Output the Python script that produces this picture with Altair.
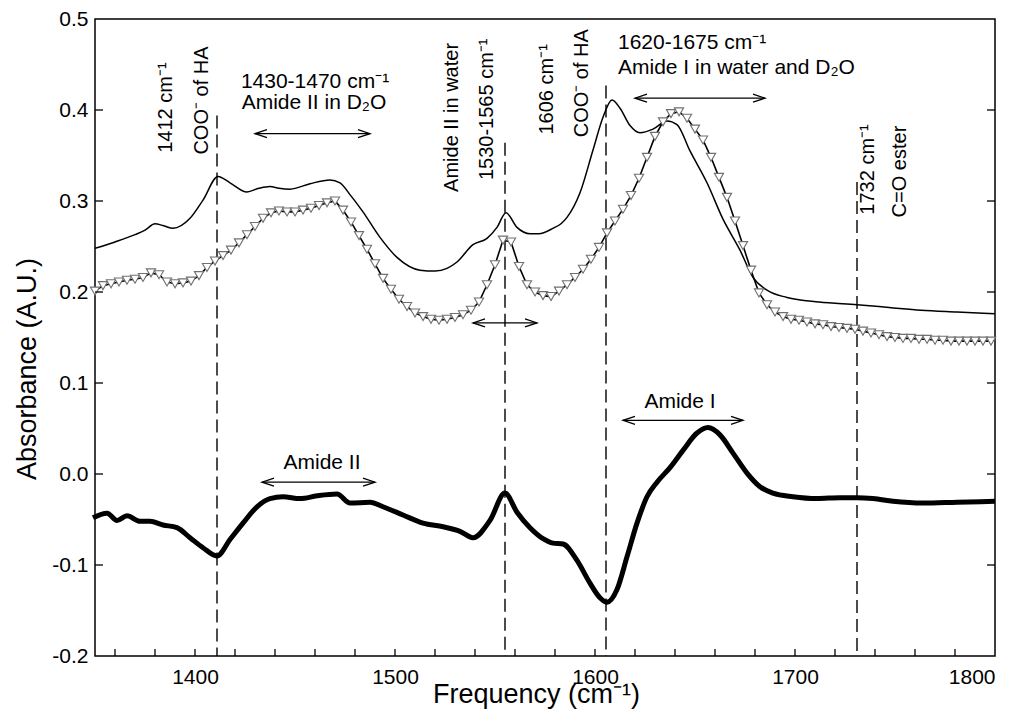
import altair as alt
import pandas as pd

FONT = "Liberation Sans"

# ---- thin solid spectrum ----
thin_x = [1350, 1360, 1370, 1375, 1380, 1384, 1389, 1397.5, 1404, 1411.5, 1417.5, 1426,
          1432, 1437.5, 1442, 1447.5, 1457.5, 1467.5, 1472.5, 1477.5, 1484, 1492.5, 1501,
          1512.5, 1520, 1526, 1531, 1539, 1546, 1551, 1555.5, 1561, 1567.5, 1572, 1579,
          1583, 1586, 1592.5, 1599, 1604, 1608.5, 1612.5, 1617.5, 1622.5, 1629, 1636,
          1641, 1647.5, 1656, 1664, 1672.5, 1679, 1686, 1696, 1712, 1731, 1747, 1763,
          1781, 1800]
thin_y = [0.248, 0.255, 0.263, 0.268, 0.275, 0.273, 0.270, 0.281, 0.301, 0.327, 0.320, 0.310,
          0.314, 0.316, 0.314, 0.313, 0.319, 0.323, 0.320, 0.307, 0.288, 0.260, 0.238,
          0.224, 0.223, 0.226, 0.233, 0.252, 0.259, 0.271, 0.287, 0.271, 0.264, 0.264, 0.270,
          0.275, 0.282, 0.309, 0.356, 0.392, 0.411, 0.402, 0.383, 0.375, 0.379, 0.388,
          0.384, 0.355, 0.320, 0.280, 0.246, 0.216, 0.202, 0.194, 0.189, 0.186, 0.183, 0.180,
          0.178, 0.176]

# ---- spectrum with open triangles ----
tri_x = [1350, 1354, 1358, 1362, 1366, 1370, 1374, 1378, 1382, 1386, 1390, 1394, 1398,
         1402, 1406, 1410, 1414, 1418, 1422, 1426, 1430, 1434, 1438, 1442, 1446, 1450,
         1454, 1458, 1462, 1466, 1470, 1474, 1478, 1482, 1486, 1490, 1494, 1498, 1502,
         1506, 1510, 1514, 1518, 1522, 1526, 1530, 1534, 1538, 1542, 1546, 1550, 1554,
         1558, 1562, 1566, 1570, 1574, 1578, 1582, 1586, 1590, 1594, 1598, 1602, 1606,
         1610, 1614, 1618, 1622, 1626, 1630, 1634, 1638, 1642, 1646, 1650, 1654, 1658,
         1662, 1666, 1670, 1674, 1678, 1682, 1686, 1690, 1694, 1698, 1702, 1706, 1710,
         1714, 1718, 1722, 1726, 1730, 1734, 1738, 1742, 1746, 1750, 1754, 1758, 1762,
         1766, 1770, 1774, 1778, 1782, 1786, 1790, 1794, 1798]
tri_y = [0.201, 0.207, 0.209, 0.211, 0.213, 0.214, 0.216, 0.221, 0.219, 0.211, 0.209, 0.210, 0.212,
         0.218, 0.227, 0.234, 0.240, 0.246, 0.254, 0.263, 0.272, 0.281, 0.287, 0.289, 0.288, 0.288,
         0.290, 0.292, 0.295, 0.298, 0.300, 0.290, 0.277, 0.262, 0.247, 0.231, 0.215, 0.203, 0.192,
         0.184, 0.177, 0.173, 0.170, 0.169, 0.170, 0.172, 0.175, 0.180, 0.189, 0.208, 0.230, 0.257,
         0.255, 0.228, 0.208, 0.200, 0.196, 0.195, 0.201, 0.208, 0.216, 0.225, 0.236, 0.249, 0.265,
         0.278, 0.291, 0.306, 0.325, 0.348, 0.371, 0.387, 0.396, 0.398, 0.391, 0.379, 0.367, 0.348,
         0.326, 0.304, 0.278, 0.251, 0.224, 0.199, 0.186, 0.178, 0.173, 0.170, 0.169, 0.167, 0.165,
         0.164, 0.162, 0.161, 0.160, 0.159, 0.157, 0.155, 0.153, 0.151, 0.150, 0.149, 0.149, 0.148,
         0.148, 0.147, 0.147, 0.146, 0.146, 0.146, 0.146, 0.146, 0.146]

# ---- thick difference spectrum ----
thick_x = [1349, 1356, 1361, 1366, 1372.5, 1377.5, 1384, 1391, 1397.5, 1404, 1411, 1417.5,
           1424, 1431, 1437.5, 1444, 1452.5, 1461, 1471, 1477.5, 1487.5, 1494, 1504, 1514,
           1524, 1532.5, 1539, 1547.5, 1555, 1561, 1567.5, 1574, 1579, 1584, 1591, 1597.5,
           1602.5, 1606, 1611, 1616, 1621, 1626, 1631, 1637.5, 1644, 1651, 1656.5, 1662.5,
           1669, 1676, 1682.5, 1689, 1699, 1711, 1722.5, 1731, 1739, 1749, 1764, 1781, 1800]
thick_y = [-0.048, -0.043, -0.051, -0.046, -0.052, -0.052, -0.056, -0.059, -0.070, -0.081, -0.090, -0.072,
           -0.054, -0.036, -0.027, -0.025, -0.027, -0.024, -0.022, -0.032, -0.031, -0.036, -0.045, -0.054,
           -0.058, -0.063, -0.070, -0.051, -0.021, -0.042, -0.059, -0.071, -0.076, -0.077, -0.095, -0.120,
           -0.136, -0.141, -0.127, -0.091, -0.054, -0.025, -0.009, 0.007, 0.026, 0.045, 0.051, 0.043,
           0.023, 0.001, -0.014, -0.021, -0.025, -0.027, -0.026, -0.026, -0.027, -0.030, -0.032, -0.031, -0.030]

# ---- dashed marker lines ----
dash_x = [1411, 1555, 1605.5, 1731]
dash_top = [0.394, 0.364, 0.427, 0.321]

# ---- double arrows ----
arrow_x1 = [1430, 1539, 1620, 1433.5, 1614]
arrow_x2 = [1487.5, 1571, 1685, 1490, 1674]
arrow_y = [0.374, 0.166, 0.413, -0.009, 0.059]

# ---- rotated annotations ----
rot_text = ["1412 cm\u207b\u00b9", "COO\u207b of HA", "Amide II in water", "1530-1565 cm\u207b\u00b9",
            "1606 cm\u207b\u00b9", "COO\u207b of HA", "1732 cm\u207b\u00b9", "C=O ester"]
rot_x = [1385.5, 1403.5, 1528.5, 1546, 1576, 1593.5, 1736.5, 1752.5]
rot_y = [0.353, 0.351, 0.310, 0.323, 0.373, 0.370, 0.285, 0.282]

# ---- horizontal annotations (centred) ----
ctr_text = ["1430-1470 cm\u207b\u00b9", "Amide II in D\u2082O", "Amide II", "Amide I"]
ctr_x = [1460, 1459.5, 1463.5, 1642.5]
ctr_y = [0.431, 0.408, 0.012, 0.079]

# ---- horizontal annotations (left aligned) ----
left_text = ["1620-1675 cm\u207b\u00b9", "Amide I in water and D\u2082O"]
left_x = [1611.5, 1611.5]
left_y = [0.474, 0.446]

# ---- axes ----
x_labels = [1400, 1500, 1600, 1700, 1800]
x_ticks = [1360, 1380, 1400, 1420, 1440, 1460, 1480, 1500, 1520, 1540, 1560, 1580, 1600,
           1620, 1640, 1660, 1680, 1700, 1720, 1740, 1760, 1780]
y_labels = [-0.2, -0.1, 0.0, 0.1, 0.2, 0.3, 0.4, 0.5]
y_ticks = [-0.1, 0.0, 0.1, 0.2, 0.3, 0.4]

W, H = 900, 637

xscale = alt.Scale(domain=[1350, 1800], nice=False, zero=False)
yscale = alt.Scale(domain=[-0.2, 0.5], nice=False, zero=False)

xaxis = alt.Axis(values=x_labels, format="d", tickSize=0, domain=False, grid=False,
                 labelFontSize=21, labelPadding=10, labelFont=FONT, labelColor="black",
                 title="Frequency (cm\u207b\u00b9)", titleFontSize=27, titleFontWeight="normal",
                 titleFont=FONT, titleColor="black", titleBaseline="alphabetic", titleY=46,
                 titleX=W / 2 - 9, titleAlign="center")
yaxis = alt.Axis(values=y_labels, tickSize=0, domain=False, grid=False,
                 labelExpr="datum.value < -0.001 ? '-' + format(-datum.value, '.1f') : format(datum.value, '.1f')",
                 labelFontSize=21, labelPadding=7, labelFont=FONT, labelColor="black",
                 title="Absorbance (A.U.)", titleFontSize=27, titleFontWeight="normal",
                 titleFont=FONT, titleColor="black", titleBaseline="alphabetic",
                 titleX=-60, titleY=H / 2 + 31, titleAngle=270, titleAlign="center")

def X(field="x"):
    return alt.X(f"{field}:Q", scale=xscale, axis=xaxis)

def Y(field="y"):
    return alt.Y(f"{field}:Q", scale=yscale, axis=yaxis)

thin_df = pd.DataFrame({"x": thin_x, "y": thin_y})
tri_df = pd.DataFrame({"x": tri_x, "y": tri_y})
thick_df = pd.DataFrame({"x": thick_x, "y": thick_y})
dash_df = pd.DataFrame({"x": dash_x, "y": dash_top, "y2": [-0.2] * len(dash_x)})
arrow_df = pd.DataFrame({"x": arrow_x1, "x2": arrow_x2, "y": arrow_y})
rot_df = pd.DataFrame({"x": rot_x, "y": rot_y, "t": rot_text})
ctr_df = pd.DataFrame({"x": ctr_x, "y": ctr_y, "t": ctr_text})
left_df = pd.DataFrame({"x": left_x, "y": left_y, "t": left_text})
xt_df = pd.DataFrame({"x": x_ticks})
yt_df = pd.DataFrame({"y": y_ticks})

thin = alt.Chart(thin_df).mark_line(color="black", strokeWidth=1.5, interpolate="monotone").encode(x=X(), y=Y())
thick = alt.Chart(thick_df).mark_line(color="black", strokeWidth=5, interpolate="monotone").encode(x=X(), y=Y())
tri_line = alt.Chart(tri_df).mark_line(color="black", strokeWidth=1.6).encode(x=X(), y=Y())
tri_pts = alt.Chart(tri_df).mark_point(shape="triangle-down", filled=True, fill="white",
                                      stroke="#707070", strokeWidth=1.1, size=85, opacity=1).encode(x=X(), y=Y())

dashes = alt.Chart(dash_df).mark_rule(color="black", strokeWidth=1.4, strokeDash=[13, 6]).encode(
    x=X(), y=Y(), y2="y2:Q")

arrow_line = alt.Chart(arrow_df).mark_rule(color="black", strokeWidth=1.3).encode(x=X(), x2="x2:Q", y=Y())
arrow_r = alt.Chart(arrow_df).mark_point(shape="M -2.4 -0.8 L 0 0 L -2.4 0.8", filled=False,
                                         stroke="black", strokeWidth=1.3, size=100, opacity=1).encode(
    x=X("x2"), y=Y())
arrow_l = alt.Chart(arrow_df).mark_point(shape="M 2.4 -0.8 L 0 0 L 2.4 0.8", filled=False,
                                         stroke="black", strokeWidth=1.3, size=100, opacity=1).encode(
    x=X(), y=Y())

rot = alt.Chart(rot_df).mark_text(angle=270, align="left", baseline="middle", font=FONT,
                                  fontSize=20, color="black").encode(x=X(), y=Y(), text="t:N")
ctr = alt.Chart(ctr_df).mark_text(align="center", baseline="middle", font=FONT,
                                  fontSize=21, color="black").encode(x=X(), y=Y(), text="t:N")
lft = alt.Chart(left_df).mark_text(align="left", baseline="middle", font=FONT,
                                   fontSize=21, color="black").encode(x=X(), y=Y(), text="t:N")

xt = alt.Chart(xt_df).mark_rule(color="black", strokeWidth=1.3).encode(
    x=X(), y=alt.value(H), y2=alt.value(H - 7))
ytl = alt.Chart(yt_df).mark_rule(color="black", strokeWidth=1.3).encode(
    y=Y(), x=alt.value(0), x2=alt.value(8))
ytr = alt.Chart(yt_df).mark_rule(color="black", strokeWidth=1.3).encode(
    y=Y(), x=alt.value(W - 8), x2=alt.value(W))

chart = alt.layer(
    dashes, thin, tri_line, tri_pts, thick, arrow_line, arrow_r, arrow_l, rot, ctr, lft, xt, ytl, ytr
).properties(
    width=W, height=H,
    autosize=alt.AutoSizeParams(type="none"),
    padding={"left": 95, "top": 19, "right": 24, "bottom": 53},
    background="white",
).configure_view(stroke="black", strokeWidth=1.5)

chart.save("out.html", embed_options={"renderer": "svg", "actions": False})
